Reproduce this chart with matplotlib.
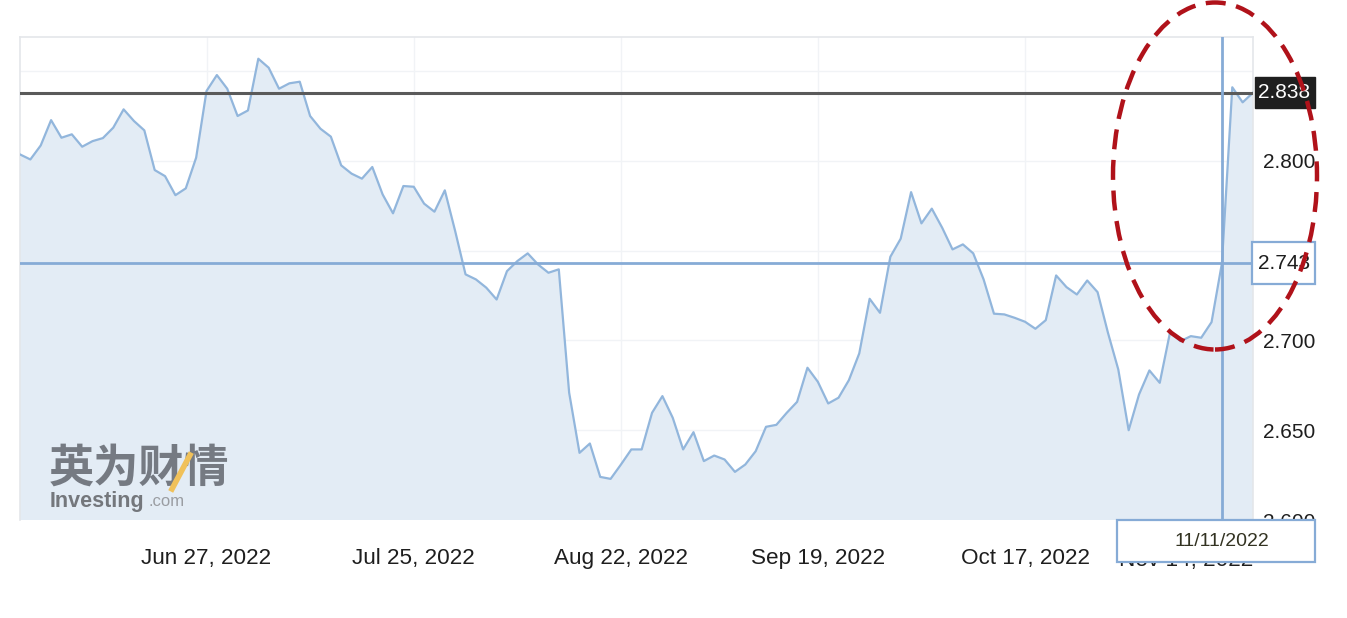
import matplotlib
matplotlib.use("Agg")
import matplotlib.pyplot as plt
from matplotlib.patches import Rectangle, Ellipse
from matplotlib.lines import Line2D
import matplotlib.transforms as mtransforms

# ---------------- data ----------------
yields = [
    2.8036, 2.8008, 2.8086, 2.8227, 2.8129, 2.8148, 2.8079, 2.8110, 2.8127, 2.8185,
    2.8287, 2.8222, 2.8170, 2.7949, 2.7915, 2.7809, 2.7847, 2.8018, 2.8389, 2.8478,
    2.8402, 2.8250, 2.8281, 2.8569, 2.8519, 2.8402, 2.8432, 2.8441, 2.8250, 2.8179,
    2.8135, 2.7975, 2.7929, 2.7901, 2.7966, 2.7813, 2.7708, 2.7860, 2.7856, 2.7762,
    2.7717, 2.7836, 2.7609, 2.7368, 2.7340, 2.7294, 2.7228, 2.7386, 2.7442, 2.7485,
    2.7423, 2.7377, 2.7396, 2.6709, 2.6374, 2.6426, 2.6240, 2.6229, 2.6309, 2.6393,
    2.6393, 2.6597, 2.6690, 2.6569, 2.6393, 2.6489, 2.6328, 2.6359, 2.6337, 2.6268,
    2.6309, 2.6383, 2.6519, 2.6530, 2.6597, 2.6658, 2.6848, 2.6770, 2.6649, 2.6681,
    2.6779, 2.6928, 2.7232, 2.7154, 2.7466, 2.7567, 2.7826, 2.7652, 2.7734, 2.7628,
    2.7507, 2.7535, 2.7485, 2.7340, 2.7149, 2.7145, 2.7126, 2.7104, 2.7065, 2.7113,
    2.7362, 2.7297, 2.7256, 2.7334, 2.7269, 2.7043, 2.6838, 2.6500, 2.6699, 2.6833,
    2.6764, 2.7047, 2.6996, 2.7024, 2.7015, 2.7102, 2.7430, 2.8410, 2.8326, 2.8380,
]
x_idx = list(range(len(yields)))

date_tick_pos = [18, 38, 58, 77, 97]
date_tick_labels = ["Jun 27, 2022", "Jul 25, 2022", "Aug 22, 2022", "Sep 19, 2022", "Oct 17, 2022"]
last_date_label = "Nov 14, 2022"

y_tick_vals = [2.600, 2.650, 2.700, 2.750, 2.800, 2.850]
y_tick_labels = ["2.600", "2.650", "2.700", "", "2.800", ""]

last_price = 2.838
cross_price = 2.743
cross_index = 116
cross_date_label = "11/11/2022"

# ---------------- figure ----------------
W, H = 1347, 618
fig = plt.figure(figsize=(W / 100, H / 100), dpi=100)
fig.patch.set_facecolor("white")

L, R, T, B = 20, 1253, 37, 520
ax = fig.add_axes([L / W, 1 - B / H, (R - L) / W, (B - T) / H])
ax.set_facecolor("white")

line_col = "#92b6dc"
fill_col = "#e3ecf5"
cross_col = "#86abd6"

ax.fill_between(x_idx, yields, 2.5, color=fill_col, zorder=1, lw=0)
ax.plot(x_idx, yields, color=line_col, lw=1.6, zorder=3)

ax.set_xlim(0, len(yields) - 1)
ax.set_ylim(2.6, 2.869)

# grid
ax.set_yticks(y_tick_vals)
ax.set_yticklabels(y_tick_labels)
ax.set_xticks(date_tick_pos)
ax.set_xticklabels(date_tick_labels)
ax.grid(True, color="#f1f3f6", lw=1.0, zorder=0.5)
ax.set_axisbelow(True)
ax.yaxis.tick_right()
ax.tick_params(axis="y", length=0, pad=7, labelsize=15, labelcolor="#1e1e1e")
ax.tick_params(axis="x", length=0, pad=20, labelsize=16.2, labelcolor="#1e1e1e")
for lab in ax.get_xticklabels() + ax.get_yticklabels():
    lab.set_fontfamily("Liberation Sans")

for s in ax.spines.values():
    s.set_color("#e4e6ea")
    s.set_linewidth(1.2)
ax.spines["bottom"].set_visible(False)

# partially hidden last date label
ax.text(1.0, -30 / (B - T), last_date_label, transform=ax.transAxes, ha="right", va="top",
        fontsize=16.2, color="#1e1e1e", family="Liberation Sans", clip_on=False, zorder=2)

# horizontal price lines
ax.axhline(last_price, color="#5a5a5a", lw=2.2, zorder=4)
ax.axhline(cross_price, color=cross_col, lw=2.0, zorder=4)
ax.axvline(cross_index, color=cross_col, lw=2.0, zorder=4)

bt = mtransforms.blended_transform_factory(ax.transAxes, ax.transData)
pxw = 1.0 / (R - L)

# last price box (dark)
ax.add_patch(Rectangle((1.0 + 2 * pxw, last_price - 0.0088), 60 * pxw, 0.0176, transform=bt,
                       facecolor="#1f1f1f", edgecolor="#1f1f1f", clip_on=False, zorder=6))
ax.text(1.0 + 5 * pxw, last_price, "2.838", transform=bt, ha="left", va="center",
        fontsize=15, color="white", family="Liberation Sans", clip_on=False, zorder=7)

# crosshair price box
ax.add_patch(Rectangle((1.0 - 1 * pxw, cross_price - 0.0118), 63 * pxw, 0.0236, transform=bt,
                       facecolor="white", edgecolor=cross_col, lw=1.6, clip_on=False, zorder=6))
ax.text(1.0 + 5 * pxw, cross_price, "2.743", transform=bt, ha="left", va="center",
        fontsize=15, color="#1e1e1e", family="Liberation Sans", clip_on=False, zorder=7)

# crosshair date box
bx = mtransforms.blended_transform_factory(ax.transData, ax.transAxes)
pxh = 1.0 / (B - T)
box_left_idx = (1117 - L) / (R - L) * (len(yields) - 1)
box_right_idx = (1315 - L) / (R - L) * (len(yields) - 1)
ax.add_patch(Rectangle((box_left_idx, -42 * pxh), box_right_idx - box_left_idx, 42 * pxh,
                       transform=bx, facecolor="white", edgecolor=cross_col, lw=1.6,
                       clip_on=False, zorder=6))
ax.text(cross_index, -21 * pxh, cross_date_label, transform=bx, ha="center", va="center",
        fontsize=14, color="#333322", family="Liberation Sans", clip_on=False, zorder=7)

# watermark
fig.text(49 / W, 1 - 469 / H, "英为财情", fontsize=32.5, fontweight="bold", color="#757a82",
         family=["Noto Sans CJK SC", "DejaVu Sans"], ha="left", va="center", zorder=3)
fig.add_artist(Line2D([172 / W, 190 / W], [1 - 489 / H, 1 - 455 / H], color="#f0c15a",
                      lw=4, transform=fig.transFigure, zorder=4))
fig.text(50 / W, 1 - 501 / H, "Investing", fontsize=15.5, fontweight="bold", color="#74777c",
         family="Liberation Sans", ha="left", va="center", zorder=3)
fig.text(148 / W, 1 - 502 / H, ".com", fontsize=12, color="#9a9da2",
         family="Liberation Sans", ha="left", va="center", zorder=3)

# red dashed ellipse
ell = Ellipse((1215 / W, 1 - 176 / H), 204 / W, 347 / H, transform=fig.transFigure,
              fill=False, edgecolor="#b0121a", lw=3.2, linestyle=(0, (4.5, 2.4)), zorder=10)
fig.add_artist(ell)

fig.savefig("out.png", dpi=100)
